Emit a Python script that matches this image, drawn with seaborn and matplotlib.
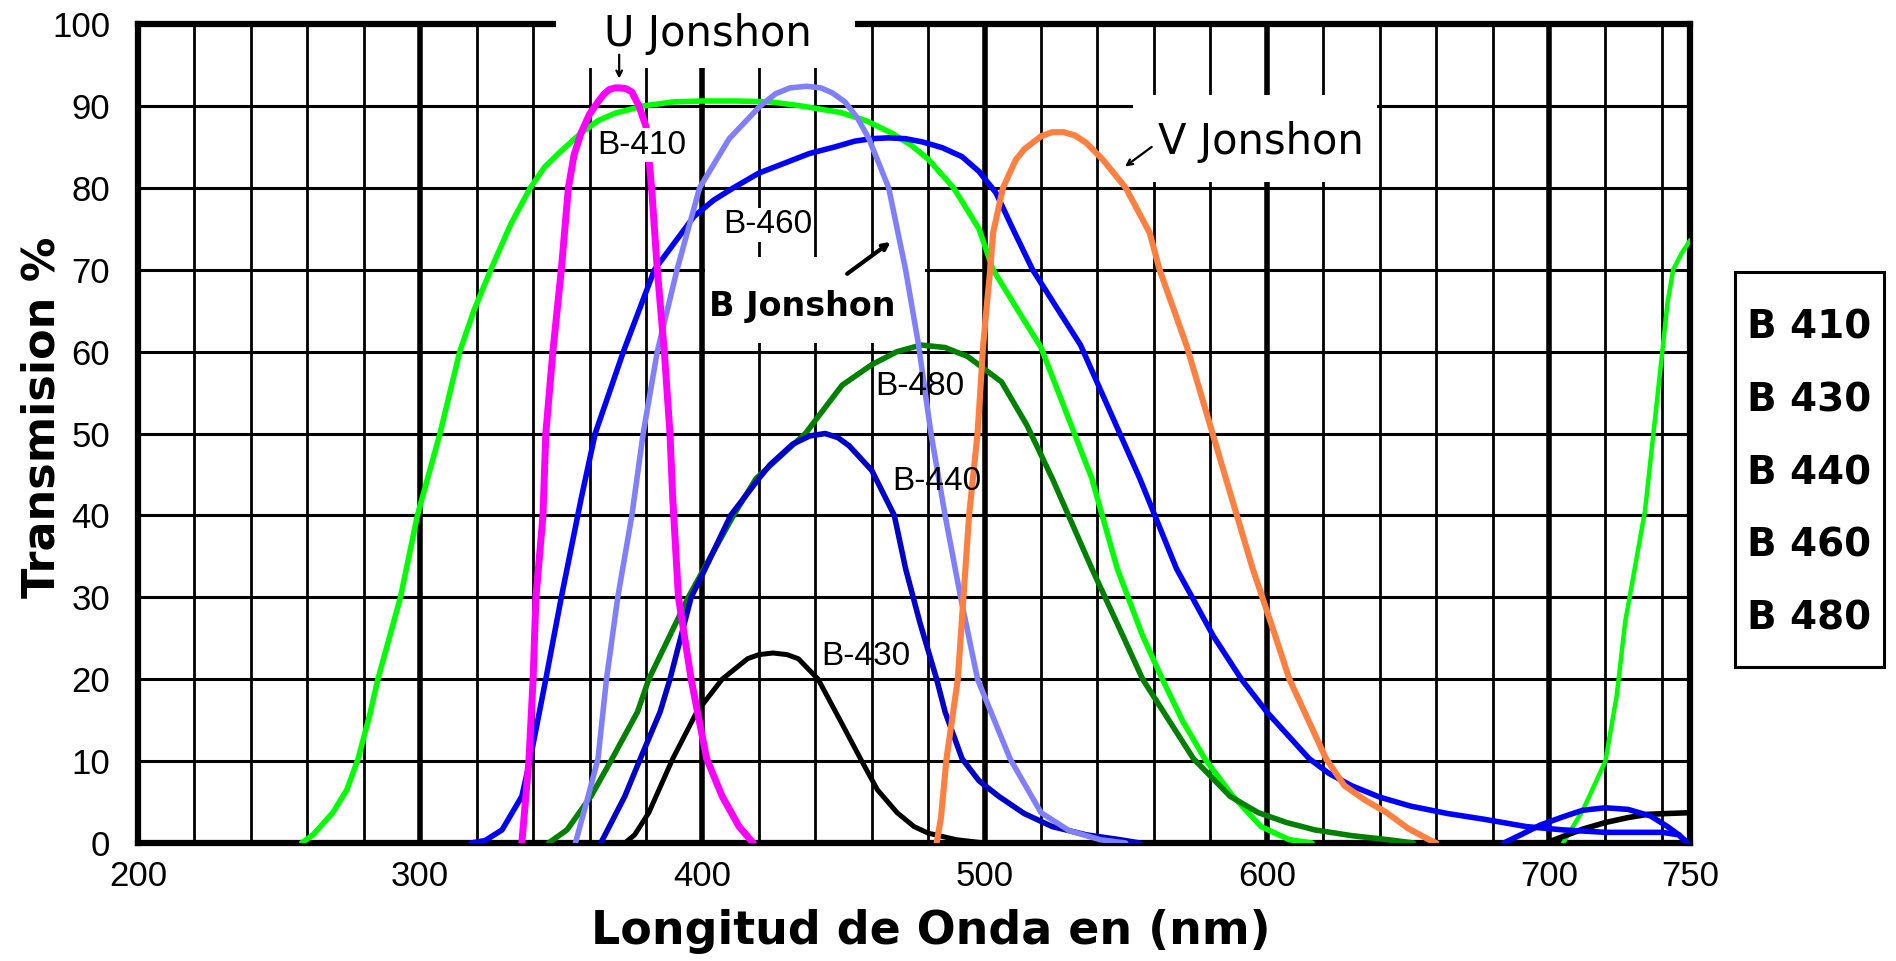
import numpy as np
import pandas as pd
import matplotlib
matplotlib.use('Agg')
import matplotlib.pyplot as plt
import seaborn as sns
from matplotlib.patches import Rectangle
from matplotlib.ticker import MultipleLocator, FixedLocator

# --- values (nm, %) ---
wl_b410 = [258, 262, 269, 274, 278, 282, 285, 293, 299, 303, 307, 314, 319, 325, 332, 339, 344,
           349, 357, 363, 369, 379, 390, 400, 412, 424, 435, 449, 458, 467, 474, 480, 489, 498,
           503, 511, 520, 529, 538, 547, 556, 563, 570, 578, 588, 598, 608, 616]
tr_b410 = [0, 1, 3.7, 6.5, 10.3, 15.5, 20, 30, 40, 45, 50, 60, 65, 70, 75.5, 80, 82.5,
           84.2, 86.7, 88.2, 89.1, 90, 90.5, 90.6, 90.6, 90.5, 90, 89.2, 88.2, 86.7, 85.2, 83.5, 80, 75,
           70, 65.5, 60.5, 52.5, 44.5, 33.5, 25.3, 20, 15, 10.3, 5.7, 2, 0.4, 0]
wl_b410_ir = [705, 712, 720, 724, 727, 734, 740, 742, 744, 747, 750]
tr_b410_ir = [0, 4, 10, 18, 27, 40.5, 59.5, 66, 70, 72, 73.6]

wl_u = [336, 338.5, 340, 341, 343.5, 344.5, 347, 350, 352.5, 354.5, 357, 360, 363, 365, 367, 369,
        371, 373, 375, 377.5, 380, 382, 384, 386.5, 388.5, 389.5, 391.5, 396, 401.5, 407, 413, 418]
tr_u = [0, 10, 20, 30, 40, 50, 60, 70, 80, 84, 86.7, 89, 90.5, 91.4, 92, 92.2,
        92.2, 92.1, 91.7, 90, 87.5, 80, 70, 60, 50, 42, 30, 20, 10.3, 5.7, 2, 0]

wl_bj = [355, 359.5, 363, 366, 370, 375, 379, 384, 391, 399, 409.5, 420.5, 426, 431, 437, 442,
         446, 450.5, 455, 459, 466, 472, 476.5, 481, 486, 491.5, 497.5, 509, 520, 530, 541, 550]
tr_bj = [0, 5.7, 10.3, 20, 30, 40, 50, 60, 70, 80, 86, 90, 91.5, 92.2, 92.4, 92.2,
         91.6, 90.5, 88.5, 86, 80, 70, 61, 50, 40, 30, 20, 10.3, 3.7, 1.5, 0.4, 0]

wl_b460 = [318, 323, 329, 336, 339, 344.5, 350, 357, 362, 372, 383, 397, 404, 411, 420, 429, 438,
           447, 454, 460, 466, 472, 478, 485, 492, 498, 504, 510, 517, 534, 555, 568, 581, 591,
           600, 615, 622, 630, 640, 651, 664, 677, 692, 705, 720, 740, 746, 749]
tr_b460 = [0, 0.3, 1.6, 5.7, 10.3, 20, 30, 42, 50, 60, 70, 76.5, 78.5, 80, 81.8, 83, 84.2,
           85, 85.7, 86, 86.1, 86, 85.6, 84.9, 83.8, 82, 79.4, 75, 70, 60.8, 44.5, 33.5, 25.3, 20,
           16, 10.3, 8.5, 7, 5.6, 4.5, 3.6, 2.9, 2, 1.6, 1.3, 1.3, 1.0, 0]
wl_blue_ir = [684, 690, 697, 705, 712, 720, 728, 736, 742, 746, 749]
tr_blue_ir = [0, 1, 2.2, 3.2, 4, 4.3, 4.1, 3.3, 2, 1, 0]

wl_b440 = [364, 372.5, 378, 385, 388.5, 396, 401, 410, 420, 424, 432, 438, 443.5, 448, 452, 460,
           468, 472, 477, 483, 486, 492, 498, 505, 514, 524, 536, 548, 555]
tr_b440 = [0, 5.7, 10.3, 16, 20, 30, 33.5, 40, 44.5, 46.2, 48.7, 49.7, 50, 49.5, 48.5, 45.5,
           40, 33.5, 27, 20, 16, 10.3, 7.6, 5.7, 3.6, 2, 1, 0.4, 0]

wl_b480 = [345.5, 352, 360.5, 368, 377, 381, 395, 411, 419, 436.5, 449.5, 460, 469, 477.5, 486,
           494, 506, 515, 524, 538, 549, 556, 574, 587, 597, 607, 617, 630, 643, 652]
tr_b480 = [0, 1.6, 5.7, 10.3, 16, 20, 30, 40, 44.5, 50, 55.9, 58.4, 60, 60.8, 60.5,
           59.4, 56.3, 51, 44.5, 33.5, 25.3, 20, 10.3, 5.7, 3.7, 2.5, 1.6, 0.9, 0.4, 0]

wl_b430 = [372.5, 376, 381, 389.5, 398, 407, 416, 420, 425, 430, 434, 441, 448, 456, 462, 469,
           475, 480, 490, 500]
tr_b430 = [0, 1, 3.7, 10.3, 16, 20, 22.5, 23, 23.2, 23, 22.5, 20, 15.5, 10.3, 6.5, 3.7,
           2, 1.2, 0.4, 0]
wl_b430_ir = [699, 705, 712, 720, 728, 735, 742, 750]
tr_b430_ir = [0, 0.8, 1.7, 2.5, 3.1, 3.5, 3.6, 3.7]

wl_v = [483, 484.5, 486.5, 490.5, 492.5, 494.5, 497.5, 499.5, 501, 502, 503, 506.5, 511, 514,
        517, 520, 524, 528, 532, 536, 542, 550, 558.5, 562, 571.5, 585.5, 595, 603, 608, 621,
        627.5, 635, 642.5, 650, 657.5, 660]
tr_v = [0, 3, 10.3, 20, 30, 40, 50, 60.8, 66.5, 70, 74.5, 80, 83.4, 84.7,
        85.5, 86.3, 86.8, 86.8, 86.4, 85.5, 83.4, 80, 74.5, 70, 60.8, 44.5, 33.5, 25.3, 20, 10.3,
        7, 5.2, 3.7, 1.8, 0.4, 0]

x_ticks = [200, 300, 400, 500, 600, 700, 750]
x_tick_labels = ['200', '300', '400', '500', '600', '700', '750']
legend_items = ['B 410', 'B 430', 'B 440', 'B 460', 'B 480']

# name, wavelengths, transmission, colour, line width
curves = [
    ('B-410', wl_b410, tr_b410, '#00FF00', 4.0),
    ('B-410 ir', wl_b410_ir, tr_b410_ir, '#00FF00', 3.2),
    ('B-480', wl_b480, tr_b480, '#008000', 4.0),
    ('B-430', wl_b430, tr_b430, 'black', 3.6),
    ('B-430 ir', wl_b430_ir, tr_b430_ir, 'black', 4.0),
    ('B-440', wl_b440, tr_b440, '#0000C8', 4.0),
    ('B-460', wl_b460, tr_b460, '#0000FF', 4.0),
    ('blue ir', wl_blue_ir, tr_blue_ir, '#0000F0', 4.0),
    ('B Jonshon', wl_bj, tr_bj, '#8080FF', 4.0),
    ('U Jonshon', wl_u, tr_u, '#FF00FF', 5.0),
    ('V Jonshon', wl_v, tr_v, '#FF8040', 4.4),
]

df = pd.concat([pd.DataFrame({'nm': wl, 'T': tr, 'curva': name})
                for name, wl, tr, _, _ in curves], ignore_index=True)

sns.set_style('white')
plt.rcParams['font.family'] = ['DejaVu Sans']
plt.rcParams['text.color'] = 'black'
plt.rcParams['xtick.color'] = 'black'
plt.rcParams['ytick.color'] = 'black'
plt.rcParams['axes.labelcolor'] = 'black'

fig = plt.figure(figsize=(18.96, 9.61), dpi=100)
ax = fig.add_axes([0.0728, 0.1228, 0.8186, 0.8522])

for name, _, _, color, lw in curves:
    sub = df[df['curva'] == name]
    sns.lineplot(data=sub, x='nm', y='T', color=color, linewidth=lw, sort=False,
                 estimator=None, ax=ax, zorder=4, legend=False)

ax.set_xlim(200, 750)
ax.set_ylim(0, 100)
ax.xaxis.set_major_locator(FixedLocator(x_ticks))
ax.set_xticklabels(x_tick_labels)
ax.xaxis.set_minor_locator(MultipleLocator(20))
ax.yaxis.set_major_locator(MultipleLocator(10))
ax.set_axisbelow(True)
ax.grid(which='minor', axis='x', color='black', lw=2.0)
ax.grid(which='major', axis='x', color='black', lw=4.0)
ax.grid(which='major', axis='y', color='black', lw=2.2)
ax.tick_params(which='both', length=0)
ax.tick_params(axis='both', labelsize=25, labelcolor='black', labelfontfamily='Liberation Sans')
ax.tick_params(axis='y', pad=20)
ax.tick_params(axis='x', pad=12)
for s in ax.spines.values():
    s.set_linewidth(4.5)
    s.set_color('black')
ax.set_xlabel('')
ax.set_ylabel('')

# white patches behind the hand-placed labels
for (x0, y0, w, h) in [(348, 94.6, 106, 9.0), (552.5, 80.7, 86.5, 10.6), (401, 61, 78, 10.5)]:
    ax.add_patch(Rectangle((x0, y0), w, h, facecolor='white', edgecolor='none',
                           zorder=3, clip_on=False))

ax.text(402, 98.8, 'U Jonshon', fontsize=30, ha='center', va='center', zorder=5)
ax.annotate('', xy=(370.5, 93.0), xytext=(370.5, 96.6), zorder=5,
            arrowprops=dict(arrowstyle='->', lw=1.6, color='black'))
ax.text(598, 85.6, 'V Jonshon', fontsize=30, ha='center', va='center', zorder=5)
ax.annotate('', xy=(549, 82.4), xytext=(560, 85.2), zorder=5,
            arrowprops=dict(arrowstyle='->', lw=1.6, color='black'))
ax.text(435.5, 65.5, 'B Jonshon', fontsize=24, fontweight='bold', ha='center', va='center', zorder=5)
ax.annotate('', xy=(467.5, 73.6), xytext=(450.5, 69.3), zorder=5,
            arrowprops=dict(arrowstyle='->', lw=3, color='black'))

box = dict(facecolor='white', edgecolor='none', pad=1)
ax.text(378.5, 85.2, 'B-410', fontsize=24, family='Liberation Sans', ha='center', va='center',
        bbox=box, zorder=5)
ax.text(423, 75.5, 'B-460', fontsize=24, family='Liberation Sans', ha='center', va='center',
        bbox=box, zorder=5)
ax.text(477, 55.8, 'B-480', fontsize=24, family='Liberation Sans', ha='center', va='center', zorder=5)
ax.text(483, 44.2, 'B-440', fontsize=24, family='Liberation Sans', ha='center', va='center', zorder=5)
ax.text(458, 22.8, 'B-430', fontsize=24, family='Liberation Sans', ha='center', va='center', zorder=5)

fig.text(42 / 1896, 1 - 417 / 961, 'Transmision %', rotation=90, fontsize=32,
         fontweight='bold', ha='center', va='center')
fig.text(931 / 1896, 1 - 931 / 961, 'Longitud de Onda en (nm)', fontsize=33,
         fontweight='bold', ha='center', va='center')

# side box with the filter names
fig.add_artist(Rectangle((0.915, 0.306), 0.0786, 0.411, transform=fig.transFigure,
                         fill=False, edgecolor='black', lw=2.2))
for i, item in enumerate(legend_items):
    fig.text(0.9214, 0.6587 - i * 0.0755, item, fontsize=28, fontweight='bold',
             ha='left', va='center')

fig.savefig('out.png', dpi=100)
